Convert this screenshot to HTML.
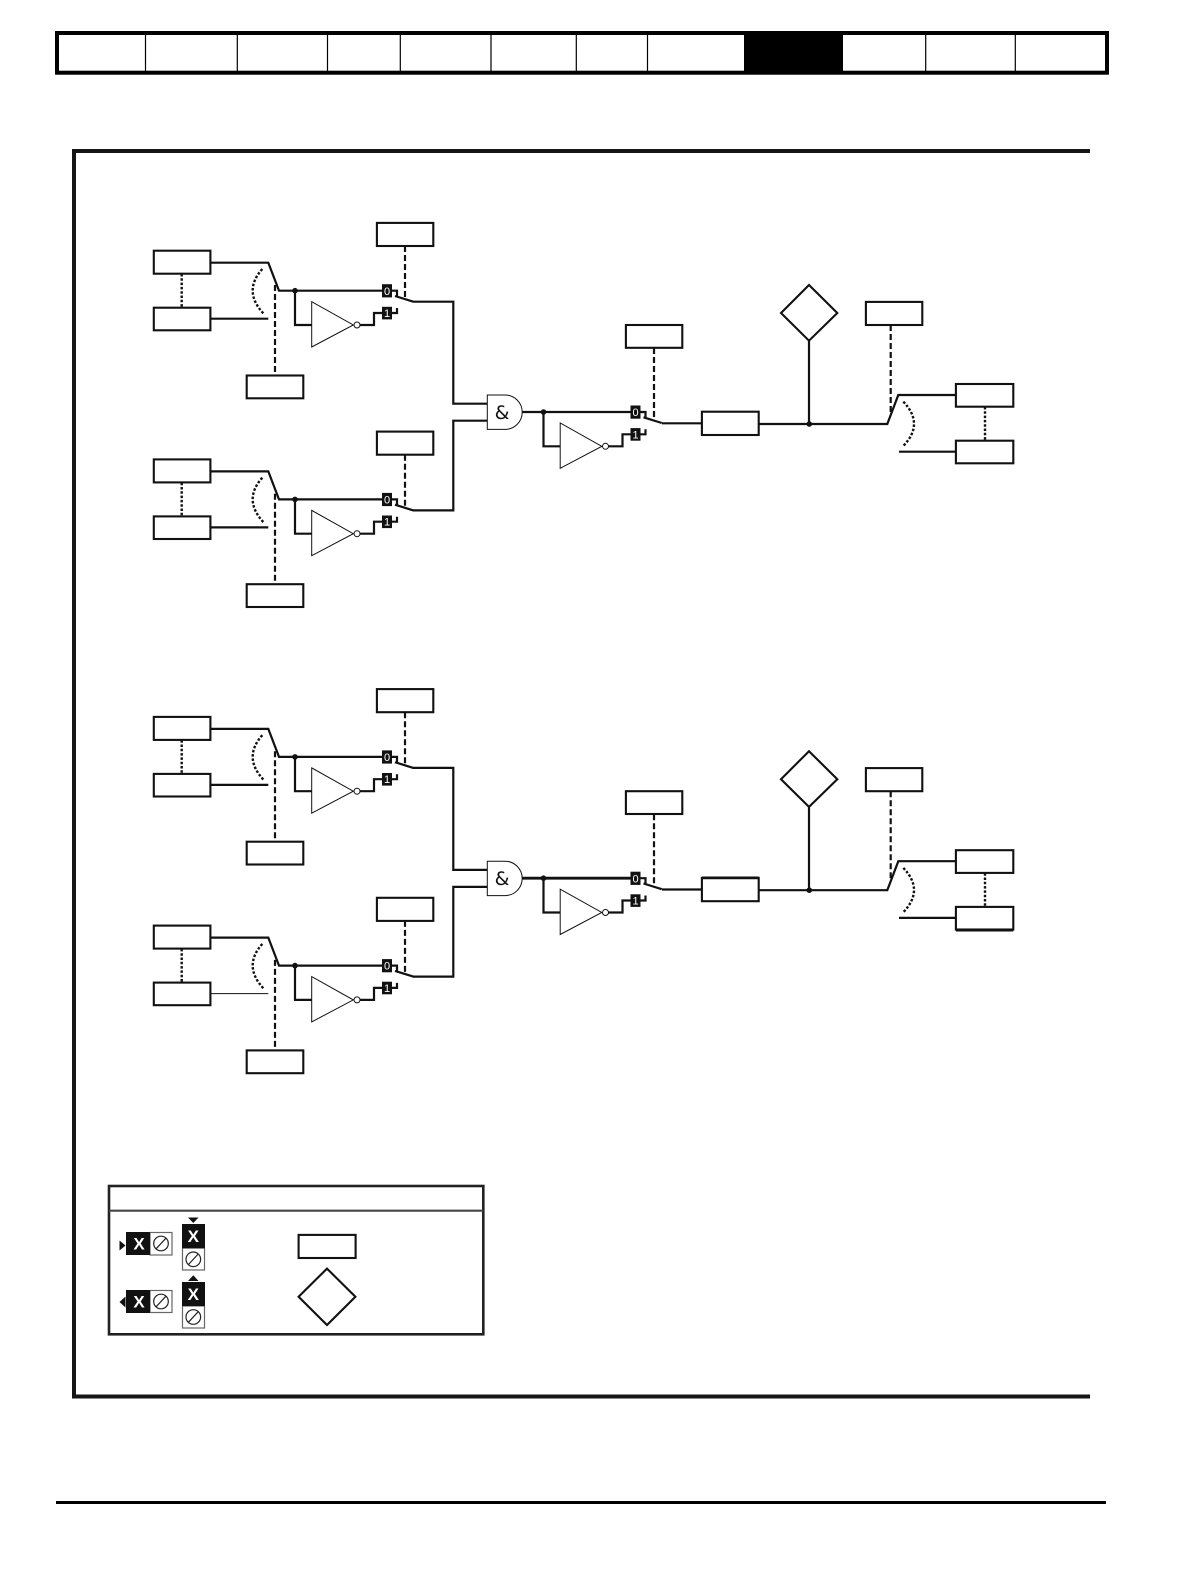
<!DOCTYPE html>
<html>
<head>
<meta charset="utf-8">
<style>
html,body{margin:0;padding:0;background:#fff;width:1190px;height:1582px;overflow:hidden}
svg{display:block}
text{font-family:"Liberation Sans",sans-serif}
.w{fill:none;stroke:#111;stroke-width:2.2}
.r{fill:#fff;stroke:#111;stroke-width:2.1}
.ds{fill:none;stroke:#111;stroke-width:2.2;stroke-dasharray:6 3}
.dt{fill:none;stroke:#111;stroke-width:2.4;stroke-dasharray:2.5 1.8}
.b{font-size:11px;font-weight:normal;fill:#fff;text-anchor:middle}
.x{font-size:17px;font-weight:bold;fill:#fff;text-anchor:middle}
.amp{font-family:"DejaVu Sans",sans-serif;font-size:19px;fill:#111;text-anchor:middle}
</style>
</head>
<body>
<svg width="1190" height="1582" viewBox="0 0 1190 1582" xmlns="http://www.w3.org/2000/svg">
<defs>
  <g id="mux">
    <circle cx="295" cy="290.7" r="2.8" fill="#111"/>
    <path class="w" d="M295 290.7V325H312"/>
    <path d="M311.7 301.7V347L353.3 325Z" fill="#fff" stroke="#111" stroke-width="1"/>
    <circle cx="357" cy="325" r="3" fill="#fff" stroke="#111" stroke-width="1"/>
    <path class="w" d="M360 325H374V313H383"/>
    <rect x="382" y="284.2" width="10" height="13.2" fill="#111"/>
    <rect x="382" y="306.8" width="10" height="12.6" fill="#111"/>
    <path class="w" d="M391 290.7H397V296"/>
    <path class="w" d="M391 313H397V308"/>
    <path class="w" d="M395 296L413.3 301.7"/>
  </g>
  <g id="blk">
    <rect class="r" x="153.8" y="250.7" width="56.6" height="23"/>
    <rect class="r" x="153.8" y="307.7" width="56.6" height="22.6"/>
    <path class="dt" d="M181.7 274V308"/>
    <path class="w" d="M210 262.7H268.3L279 290.7H383"/>
    <path class="dt" d="M262.3 269Q242.6 291 263.3 313.3"/>
    <path class="ds" d="M275 285V375"/>
    <rect class="r" x="246.7" y="375.5" width="56.6" height="22.8"/>
    <rect class="r" x="376.9" y="222.9" width="56.4" height="23.1"/>
    <path class="ds" d="M405 246V300"/>
    <use href="#mux"/>
  </g>
  <g id="half">
    <use href="#blk"/>
    <use href="#blk" transform="translate(0,208.7)"/>
    <path class="w" d="M413 301.7H453.3V403.7H488"/>
    <path class="w" d="M413 510.4H453.3V420.7H488"/>
    <path d="M487.3 395H505A17.2 17.2 0 0 1 505 429.4H487.3Z" fill="#fff" stroke="#111" stroke-width="1"/>
    <path class="w" d="M522 412H631"/>
    <use href="#mux" transform="translate(248.5,121.3)"/>
    <rect class="r" x="625.9" y="325" width="56.4" height="22.8"/>
    <path class="ds" d="M654 348V421"/>
    <path class="w" d="M662 423.3H702"/>
    <rect class="r" x="701.9" y="411.7" width="56.8" height="23.3"/>
    <path class="w" d="M758.7 424H887.3L898.3 395H956"/>
    <circle cx="809.3" cy="424" r="2.8" fill="#111"/>
    <path class="w" d="M809 341V424"/>
    <path class="r" d="M809 285L837.3 313L809 340.7L781 313Z"/>
    <rect class="r" x="865.9" y="301.9" width="56.4" height="23.1"/>
    <path class="ds" d="M890.7 325V414"/>
    <path class="dt" d="M903.3 401.7Q924.7 423.8 903.3 446"/>
    <path class="w" d="M899 451.7H956"/>
    <rect class="r" x="955.9" y="384" width="57.4" height="22.7"/>
    <rect class="r" x="955.9" y="440.7" width="57.4" height="22.6"/>
    <path class="dt" d="M985 407V441"/>
  </g>
  <g id="sl">
    <circle cx="0" cy="0" r="7.3" fill="#fff" stroke="#222" stroke-width="1.2"/>
    <path d="M-4.8 5.2L4.8 -5.2" stroke="#222" stroke-width="1.2"/>
  </g>
</defs>

<!-- top bar -->
<rect x="57" y="33" width="1050" height="39.7" fill="#fff" stroke="#000" stroke-width="4"/>
<rect x="744" y="33" width="99" height="40" fill="#000"/>
<path d="M145.5 33V73M237.3 33V73M327.5 33V73M400.3 33V73M491 33V73M576.3 33V73M647.5 33V73M925.7 33V73M1015.3 33V73" stroke="#000" stroke-width="1.2" fill="none"/>

<!-- main frame -->
<path d="M1090 151H74V1396.5H1090" fill="none" stroke="#161616" stroke-width="4"/>

<!-- bottom rule -->
<rect x="56" y="1501" width="1050" height="3" fill="#000"/>

<!-- upper half -->
<use href="#half"/>
<path class="w" d="M210 318.7H268.3"/>
<path class="w" d="M210 527.4H268.3"/>
<text class="b" x="387" y="294.8">0</text>
<text class="b" x="387" y="317">1</text>
<text class="b" x="387" y="503.5">0</text>
<text class="b" x="387" y="525.7">1</text>
<text class="b" x="635.5" y="416.1">0</text>
<text class="b" x="635.5" y="438.3">1</text>
<text class="amp" x="502" y="419">&amp;</text>

<!-- lower half -->
<use href="#half" transform="translate(0,466.2)"/>
<path class="w" d="M210 784.9H268.3"/>
<path d="M210 993.6H268.3" fill="none" stroke="#111" stroke-width="1"/>
<text class="b" x="387" y="761">0</text>
<text class="b" x="387" y="783.2">1</text>
<text class="b" x="387" y="969.7">0</text>
<text class="b" x="387" y="991.9">1</text>
<text class="b" x="635.5" y="882.3">0</text>
<text class="b" x="635.5" y="904.5">1</text>
<text class="amp" x="502" y="885.2">&amp;</text>
<path d="M522 878.2H631" stroke="#111" stroke-width="2.8" fill="none"/>
<path d="M701.9 877.9H758.7" stroke="#111" stroke-width="2.8" fill="none"/>
<path d="M955.9 930.1H1013.3" stroke="#111" stroke-width="2.8" fill="none"/>

<!-- legend -->
<rect x="109" y="1186" width="374.3" height="148.3" fill="#fff" stroke="#222" stroke-width="2.6"/>
<path d="M109 1210.7H483" stroke="#444" stroke-width="2.2" fill="none"/>

<rect x="150" y="1232.5" width="22" height="22.5" fill="#fff" stroke="#666" stroke-width="1.2"/>
<rect x="126" y="1232" width="24" height="23" fill="#111"/>
<text class="x" x="139" y="1249.5">X</text>
<use href="#sl" transform="translate(161,1243.5)"/>
<path d="M119.5 1240.5V1250.5L125.5 1245.5Z" fill="#111"/>

<rect x="150" y="1290.5" width="22" height="22" fill="#fff" stroke="#666" stroke-width="1.2"/>
<rect x="126" y="1290" width="24" height="23" fill="#111"/>
<text class="x" x="139" y="1307.5">X</text>
<use href="#sl" transform="translate(161,1301.5)"/>
<path d="M125.5 1296.5V1307.5L119.5 1302Z" fill="#111"/>

<rect x="182.5" y="1248" width="22" height="22" fill="#fff" stroke="#666" stroke-width="1.2"/>
<rect x="182" y="1224" width="23" height="24.3" fill="#111"/>
<text class="x" x="193.3" y="1242">X</text>
<use href="#sl" transform="translate(193.3,1259.3)"/>
<path d="M188 1217.5H198.5L193.3 1223Z" fill="#111"/>

<rect x="182.5" y="1306" width="22" height="22" fill="#fff" stroke="#666" stroke-width="1.2"/>
<rect x="182" y="1282" width="23" height="24" fill="#111"/>
<text class="x" x="193.3" y="1300">X</text>
<use href="#sl" transform="translate(193.3,1317)"/>
<path d="M188 1281H198.5L193.3 1275.3Z" fill="#111"/>

<rect class="r" x="298.6" y="1234.9" width="57" height="23.1"/>
<path class="r" d="M327 1268.6L355.4 1296.7L327 1325L298.6 1296.7Z"/>
</svg>
</body>
</html>
